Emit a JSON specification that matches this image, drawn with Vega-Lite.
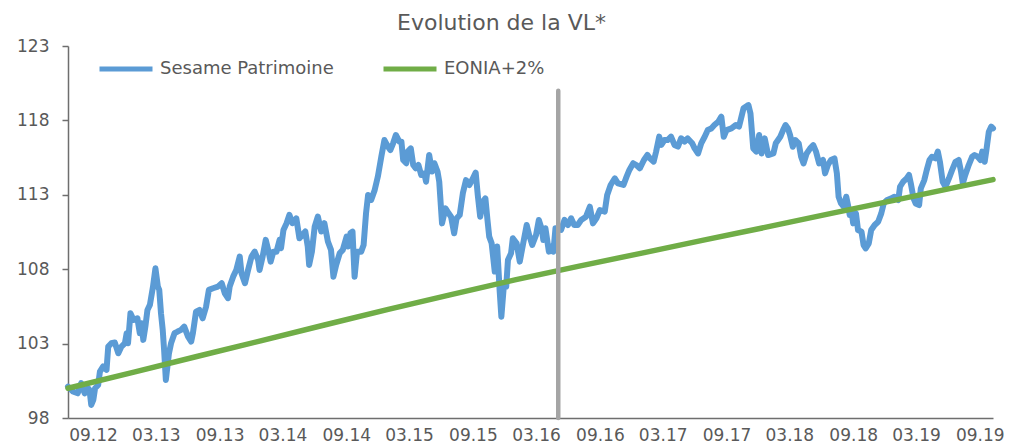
{
  "$schema": "https://vega.github.io/schema/vega-lite/v6.json",
  "autosize": "none",
  "width": 925,
  "height": 372,
  "padding": {"left": 68, "top": 46, "right": 16, "bottom": 26},
  "background": "white",
  "config": {
    "font": "DejaVu Sans",
    "view": {"stroke": null},
    "axis": {"grid": false, "labelColor": "#595959", "labelFontSize": 17, "domainColor": "#6e6e6e", "domainWidth": 1.5, "tickColor": "#6e6e6e", "tickWidth": 1.5, "title": null}
  },
  "title": {"text": "Evolution de la VL*", "fontSize": 22, "fontWeight": "normal", "color": "#595959", "anchor": "middle", "dx": -29, "dy": 29, "baseline": "alphabetic", "offset": 14},
  "datasets": {
    "fund": [
      {"d":"2012-06-21","v":100.11},{"d":"2012-07-05","v":99.78},{"d":"2012-07-19","v":99.66},{"d":"2012-07-29","v":100.34},{"d":"2012-08-08","v":99.66},{"d":"2012-08-18","v":100.0},{"d":"2012-08-22","v":99.89},{"d":"2012-08-27","v":98.88},{"d":"2012-09-02","v":99.22},{"d":"2012-09-07","v":100.0},{"d":"2012-09-16","v":100.22},{"d":"2012-09-21","v":101.12},{"d":"2012-09-30","v":101.46},{"d":"2012-10-10","v":101.23},{"d":"2012-10-15","v":102.8},{"d":"2012-10-24","v":103.02},{"d":"2012-11-03","v":103.07},{"d":"2012-11-13","v":102.35},{"d":"2012-11-22","v":102.8},{"d":"2012-12-02","v":103.02},{"d":"2012-12-07","v":103.7},{"d":"2012-12-11","v":103.02},{"d":"2012-12-18","v":105.04},{"d":"2012-12-27","v":104.59},
      {"d":"2013-01-07","v":104.7},{"d":"2013-01-14","v":103.7},{"d":"2013-01-19","v":104.37},{"d":"2013-01-24","v":103.25},{"d":"2013-01-30","v":104.14},{"d":"2013-02-05","v":105.26},{"d":"2013-02-12","v":105.6},{"d":"2013-02-21","v":106.83},{"d":"2013-02-28","v":108.06},{"d":"2013-03-07","v":106.83},{"d":"2013-03-11","v":106.61},{"d":"2013-03-16","v":105.04},{"d":"2013-03-21","v":103.92},{"d":"2013-03-25","v":102.58},{"d":"2013-03-30","v":100.56},{"d":"2013-04-08","v":102.35},{"d":"2013-04-14","v":103.02},{"d":"2013-04-24","v":103.7},{"d":"2013-05-03","v":103.81},{"d":"2013-05-13","v":103.92},{"d":"2013-05-22","v":104.14},{"d":"2013-06-02","v":103.47},{"d":"2013-06-11","v":103.14},{"d":"2013-06-16","v":103.7},{"d":"2013-06-25","v":105.15},{"d":"2013-07-05","v":105.26},{"d":"2013-07-14","v":104.7},{"d":"2013-07-24","v":105.49},{"d":"2013-08-01","v":106.61},{"d":"2013-08-13","v":106.72},{"d":"2013-08-27","v":106.83},{"d":"2013-09-07","v":107.06},{"d":"2013-09-16","v":106.38},{"d":"2013-09-25","v":106.05},{"d":"2013-09-30","v":106.83},{"d":"2013-10-10","v":107.5},{"d":"2013-10-19","v":107.95},{"d":"2013-10-29","v":108.85},{"d":"2013-11-03","v":107.73},{"d":"2013-11-13","v":107.06},{"d":"2013-11-22","v":107.95},{"d":"2013-12-02","v":108.85},{"d":"2013-12-11","v":109.18},{"d":"2013-12-21","v":108.62},{"d":"2013-12-25","v":107.95},
      {"d":"2014-01-03","v":108.85},{"d":"2014-01-12","v":109.97},{"d":"2014-01-19","v":109.3},{"d":"2014-01-26","v":108.51},{"d":"2014-02-03","v":109.18},{"d":"2014-02-12","v":109.18},{"d":"2014-02-21","v":109.97},{"d":"2014-02-25","v":109.41},{"d":"2014-03-04","v":110.64},{"d":"2014-03-13","v":111.09},{"d":"2014-03-21","v":111.65},{"d":"2014-03-30","v":111.09},{"d":"2014-04-10","v":111.42},{"d":"2014-04-19","v":110.08},{"d":"2014-04-27","v":110.3},{"d":"2014-05-06","v":110.53},{"d":"2014-05-13","v":109.52},{"d":"2014-05-17","v":108.29},{"d":"2014-05-25","v":109.18},{"d":"2014-06-02","v":110.86},{"d":"2014-06-11","v":111.54},{"d":"2014-06-21","v":110.53},{"d":"2014-06-30","v":111.09},{"d":"2014-07-10","v":109.86},{"d":"2014-07-19","v":109.3},{"d":"2014-07-26","v":107.5},{"d":"2014-08-03","v":108.29},{"d":"2014-08-13","v":109.07},{"d":"2014-08-22","v":109.3},{"d":"2014-09-02","v":110.19},{"d":"2014-09-06","v":109.52},{"d":"2014-09-13","v":110.42},{"d":"2014-09-19","v":110.53},{"d":"2014-09-25","v":107.5},{"d":"2014-10-02","v":109.18},{"d":"2014-10-14","v":109.18},{"d":"2014-10-21","v":109.63},{"d":"2014-10-28","v":111.76},{"d":"2014-11-03","v":112.99},{"d":"2014-11-12","v":112.66},{"d":"2014-11-22","v":113.33},{"d":"2014-12-01","v":114.22},{"d":"2014-12-11","v":115.56},{"d":"2014-12-20","v":116.68},{"d":"2014-12-30","v":116.24},
      {"d":"2015-01-06","v":116.01},{"d":"2015-01-14","v":116.46},{"d":"2015-01-22","v":117.02},{"d":"2015-02-01","v":116.57},{"d":"2015-02-07","v":116.57},{"d":"2015-02-12","v":115.34},{"d":"2015-02-21","v":115.12},{"d":"2015-02-25","v":115.9},{"d":"2015-03-06","v":116.12},{"d":"2015-03-13","v":115.0},{"d":"2015-03-20","v":114.78},{"d":"2015-03-28","v":115.0},{"d":"2015-04-05","v":114.33},{"d":"2015-04-14","v":114.44},{"d":"2015-04-19","v":113.88},{"d":"2015-04-28","v":115.68},{"d":"2015-05-06","v":114.56},{"d":"2015-05-13","v":115.12},{"d":"2015-05-22","v":114.56},{"d":"2015-05-27","v":113.88},{"d":"2015-06-04","v":111.08},{"d":"2015-06-14","v":112.09},{"d":"2015-06-23","v":111.76},{"d":"2015-06-30","v":111.53},{"d":"2015-07-09","v":110.41},{"d":"2015-07-16","v":111.42},{"d":"2015-07-25","v":111.64},{"d":"2015-08-03","v":113.1},{"d":"2015-08-12","v":113.99},{"d":"2015-08-22","v":113.66},{"d":"2015-09-01","v":114.11},{"d":"2015-09-09","v":114.49},{"d":"2015-09-15","v":112.99},{"d":"2015-09-22","v":111.53},{"d":"2015-09-30","v":112.54},{"d":"2015-10-07","v":112.76},{"d":"2015-10-13","v":111.31},{"d":"2015-10-18","v":110.19},{"d":"2015-10-25","v":109.74},{"d":"2015-11-03","v":107.84},{"d":"2015-11-10","v":109.52},{"d":"2015-11-17","v":106.6},{"d":"2015-11-22","v":104.81},{"d":"2015-11-29","v":106.83},{"d":"2015-12-06","v":106.83},{"d":"2015-12-11","v":108.62},{"d":"2015-12-20","v":109.07},{"d":"2015-12-25","v":110.08},
      {"d":"2016-01-05","v":109.74},{"d":"2016-01-14","v":108.51},{"d":"2016-01-24","v":109.74},{"d":"2016-02-03","v":110.97},{"d":"2016-02-10","v":110.3},{"d":"2016-02-19","v":109.63},{"d":"2016-03-01","v":110.3},{"d":"2016-03-09","v":111.31},{"d":"2016-03-18","v":110.64},{"d":"2016-03-22","v":109.96},{"d":"2016-03-28","v":110.75},{"d":"2016-04-07","v":109.18},{"d":"2016-04-14","v":109.52},{"d":"2016-04-20","v":109.18},{"d":"2016-04-26","v":110.75},{"d":"2016-05-12","v":110.64},{"d":"2016-05-22","v":111.31},{"d":"2016-06-01","v":110.97},{"d":"2016-06-10","v":111.42},{"d":"2016-06-19","v":110.97},{"d":"2016-06-29","v":110.97},{"d":"2016-07-09","v":111.31},{"d":"2016-07-23","v":111.53},{"d":"2016-08-03","v":112.2},{"d":"2016-08-12","v":111.08},{"d":"2016-08-22","v":111.42},{"d":"2016-09-01","v":111.98},{"d":"2016-09-15","v":111.87},{"d":"2016-09-22","v":112.99},{"d":"2016-10-02","v":113.66},{"d":"2016-10-14","v":114.11},{"d":"2016-10-23","v":113.77},{"d":"2016-11-08","v":113.66},{"d":"2016-11-17","v":114.22},{"d":"2016-11-25","v":114.67},{"d":"2016-12-06","v":115.12},{"d":"2016-12-15","v":115.0},{"d":"2016-12-25","v":114.78},
      {"d":"2017-01-06","v":115.34},{"d":"2017-01-16","v":115.68},{"d":"2017-01-23","v":115.45},{"d":"2017-02-03","v":115.23},{"d":"2017-02-10","v":115.9},{"d":"2017-02-19","v":116.91},{"d":"2017-02-25","v":116.35},{"d":"2017-03-06","v":116.68},{"d":"2017-03-15","v":116.68},{"d":"2017-03-25","v":116.91},{"d":"2017-04-04","v":116.35},{"d":"2017-04-14","v":116.24},{"d":"2017-04-23","v":116.8},{"d":"2017-05-03","v":116.57},{"d":"2017-05-12","v":116.79},{"d":"2017-05-25","v":116.46},{"d":"2017-06-01","v":116.12},{"d":"2017-06-11","v":115.78},{"d":"2017-06-20","v":116.46},{"d":"2017-06-30","v":116.9},{"d":"2017-07-09","v":117.35},{"d":"2017-07-19","v":117.46},{"d":"2017-07-28","v":117.69},{"d":"2017-08-08","v":117.91},{"d":"2017-08-17","v":118.25},{"d":"2017-08-24","v":116.9},{"d":"2017-09-01","v":117.35},{"d":"2017-09-15","v":117.46},{"d":"2017-09-28","v":117.69},{"d":"2017-10-07","v":117.58},{"d":"2017-10-14","v":118.25},{"d":"2017-10-20","v":118.81},{"d":"2017-11-03","v":119.03},{"d":"2017-11-09","v":118.47},{"d":"2017-11-17","v":116.12},{"d":"2017-11-26","v":115.9},{"d":"2017-12-04","v":117.02},{"d":"2017-12-11","v":115.78},{"d":"2017-12-20","v":116.79},{"d":"2017-12-30","v":115.67},
      {"d":"2018-01-14","v":115.78},{"d":"2018-01-21","v":116.46},{"d":"2018-02-03","v":116.9},{"d":"2018-02-11","v":117.35},{"d":"2018-02-18","v":117.69},{"d":"2018-02-25","v":117.46},{"d":"2018-03-03","v":117.02},{"d":"2018-03-11","v":116.23},{"d":"2018-03-18","v":116.68},{"d":"2018-03-28","v":116.46},{"d":"2018-04-04","v":115.56},{"d":"2018-04-11","v":115.11},{"d":"2018-04-20","v":115.78},{"d":"2018-04-30","v":116.12},{"d":"2018-05-09","v":116.34},{"d":"2018-05-17","v":115.9},{"d":"2018-05-26","v":115.11},{"d":"2018-06-06","v":115.34},{"d":"2018-06-12","v":114.44},{"d":"2018-06-20","v":115.0},{"d":"2018-06-29","v":115.34},{"d":"2018-07-09","v":115.45},{"d":"2018-07-16","v":114.44},{"d":"2018-07-21","v":112.87},{"d":"2018-07-28","v":112.42},{"d":"2018-08-05","v":112.2},{"d":"2018-08-12","v":112.87},{"d":"2018-08-17","v":112.31},{"d":"2018-08-22","v":111.64},{"d":"2018-08-27","v":111.98},{"d":"2018-09-01","v":111.08},{"d":"2018-09-09","v":111.75},{"d":"2018-09-15","v":110.63},{"d":"2018-09-25","v":110.52},{"d":"2018-10-01","v":109.62},{"d":"2018-10-07","v":109.4},{"d":"2018-10-16","v":109.74},{"d":"2018-10-23","v":110.63},{"d":"2018-11-02","v":110.97},{"d":"2018-11-12","v":111.19},{"d":"2018-11-21","v":111.75},{"d":"2018-11-28","v":112.42},{"d":"2018-12-08","v":112.65},{"d":"2018-12-20","v":112.76},{"d":"2018-12-29","v":112.87},
      {"d":"2019-01-09","v":112.65},{"d":"2019-01-14","v":113.54},{"d":"2019-01-23","v":113.88},{"d":"2019-02-02","v":114.1},{"d":"2019-02-09","v":114.33},{"d":"2019-02-15","v":113.66},{"d":"2019-02-22","v":112.76},{"d":"2019-02-28","v":112.42},{"d":"2019-03-10","v":112.31},{"d":"2019-03-15","v":113.43},{"d":"2019-03-25","v":113.99},{"d":"2019-04-01","v":114.66},{"d":"2019-04-09","v":115.34},{"d":"2019-04-16","v":115.56},{"d":"2019-04-26","v":115.45},{"d":"2019-05-03","v":115.9},{"d":"2019-05-09","v":115.22},{"d":"2019-05-17","v":113.88},{"d":"2019-05-25","v":113.54},{"d":"2019-06-04","v":114.1},{"d":"2019-06-13","v":114.66},{"d":"2019-06-23","v":115.22},{"d":"2019-07-02","v":115.34},{"d":"2019-07-09","v":114.55},{"d":"2019-07-14","v":113.77},{"d":"2019-07-21","v":114.33},{"d":"2019-07-31","v":115.0},{"d":"2019-08-10","v":115.56},{"d":"2019-08-17","v":115.67},{"d":"2019-08-26","v":115.56},{"d":"2019-09-03","v":115.34},{"d":"2019-09-08","v":115.9},{"d":"2019-09-15","v":115.22},{"d":"2019-09-20","v":116.01},{"d":"2019-09-27","v":117.24},{"d":"2019-10-04","v":117.58},{"d":"2019-10-09","v":117.46}
    ],
    "eonia": [
      {"d":"2012-06-21","v":100.0},{"d":"2012-12-31","v":101.1},{"d":"2013-06-30","v":102.15},{"d":"2013-12-31","v":103.2},{"d":"2014-06-30","v":104.25},{"d":"2014-12-31","v":105.3},{"d":"2015-06-30","v":106.29},{"d":"2015-12-31","v":107.28},{"d":"2016-06-30","v":108.19},{"d":"2016-12-31","v":109.08},{"d":"2017-06-30","v":109.97},{"d":"2017-12-31","v":110.86},{"d":"2018-06-30","v":111.75},{"d":"2018-12-31","v":112.64},{"d":"2019-06-30","v":113.53},{"d":"2019-10-09","v":114.02}
    ],
    "marker": [{"d":"2016-05-04","lo":98,"hi":120}]
  },
  "encoding": {
    "x": {"field": "d", "type": "temporal",
      "scale": {"domain": [{"year":2012,"month":6,"date":21},{"year":2019,"month":10,"date":9}]},
      "axis": {"format": "%m.%y", "ticks": false, "tickSize": 0, "labelPadding": 9, "labelAlign": "center", "labelFlush": false, "labelOverlap": false,
        "values": [{"year":2012,"month":9,"date":1},{"year":2013,"month":3,"date":1},{"year":2013,"month":9,"date":1},{"year":2014,"month":3,"date":1},{"year":2014,"month":9,"date":1},{"year":2015,"month":3,"date":1},{"year":2015,"month":9,"date":1},{"year":2016,"month":3,"date":1},{"year":2016,"month":9,"date":1},{"year":2017,"month":3,"date":1},{"year":2017,"month":9,"date":1},{"year":2018,"month":3,"date":1},{"year":2018,"month":9,"date":1},{"year":2019,"month":3,"date":1},{"year":2019,"month":9,"date":1}]}},
    "y": {"field": "v", "type": "quantitative",
      "scale": {"domain": [98, 123], "nice": false, "zero": false},
      "axis": {"values": [98, 103, 108, 113, 118, 123], "tickSize": 6, "labelPadding": 13}}
  },
  "layer": [
    {
      "data": {"name": "fund"},
      "transform": [{"calculate": "'Sesame Patrimoine'", "as": "s"}],
      "mark": {"type": "line", "strokeWidth": 6, "strokeCap": "round", "strokeJoin": "round"},
      "encoding": {
        "color": {"field": "s", "type": "nominal",
          "scale": {"domain": ["Sesame Patrimoine", "EONIA+2%"], "range": ["#5B9BD5", "#70AD47"]},
          "legend": {"title": null, "orient": "none", "legendX": 29, "legendY": -6, "direction": "horizontal", "symbolType": "stroke", "symbolSize": 2809, "symbolStrokeWidth": 5, "labelFontSize": 18, "labelColor": "#595959", "labelOffset": 5, "labelLimit": 400, "columnPadding": 39}}
      }
    },
    {
      "data": {"name": "eonia"},
      "transform": [{"calculate": "'EONIA+2%'", "as": "s"}],
      "mark": {"type": "line", "strokeWidth": 5.5, "strokeCap": "round", "strokeJoin": "round"},
      "encoding": {"color": {"field": "s", "type": "nominal"}}
    },
    {
      "data": {"name": "marker"},
      "mark": {"type": "rule", "color": "#A5A5A5", "strokeWidth": 4.5, "strokeCap": "round"},
      "encoding": {"y": {"field": "lo", "type": "quantitative"}, "y2": {"field": "hi"}}
    }
  ]
}
